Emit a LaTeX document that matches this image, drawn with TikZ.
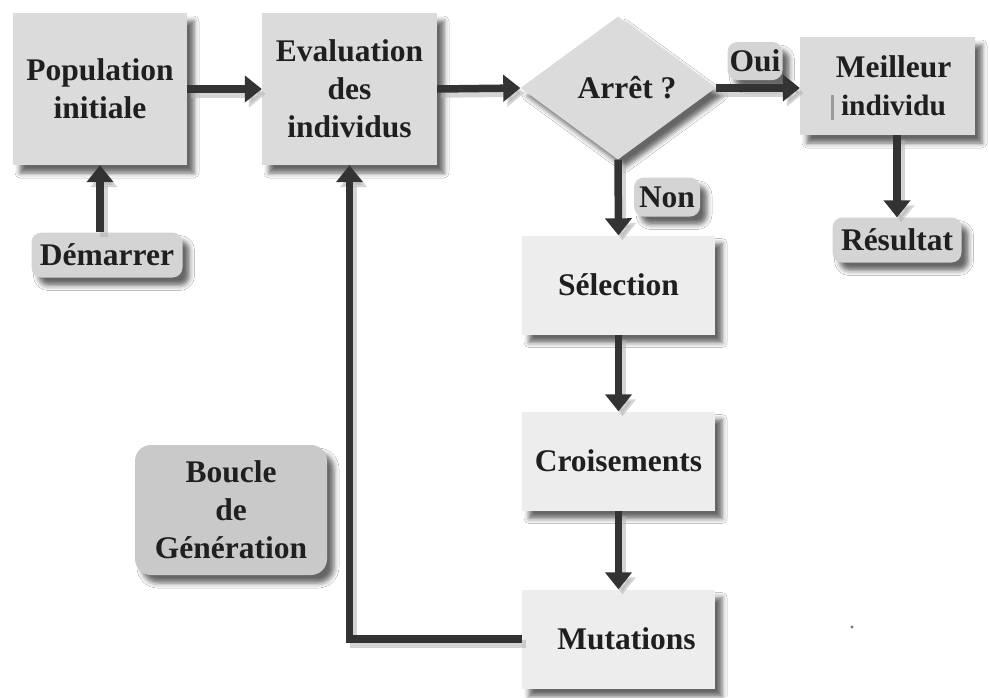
\documentclass[tikz,border=0pt]{standalone}
\usepackage{fontspec}
\setmainfont{Liberation Serif}
\usetikzlibrary{shapes.geometric,arrows.meta,shadows.blur}
\begin{document}
\begin{tikzpicture}[x=1pt,y=-1pt,
  font=\fontsize{31.5}{38}\selectfont\bfseries,
  every node/.append style={text=black!88},
  sh/.style={blur shadow={shadow xshift=7pt,shadow yshift=-8pt,
    shadow blur radius=5pt,shadow opacity=60}},
  box/.style={rectangle,fill=black!14,sh,inner sep=0pt,align=center},
  lowbox/.style={box,fill=black!7,minimum width=193pt,minimum height=99pt},
  tag/.style={rectangle,rounded corners=10pt,fill=black!17,sh,inner sep=0pt,align=center},
  tip/.style={-{Triangle[length=17pt,width=26pt]}},
  arr/.style={draw=black!80,line width=7.5pt,tip,
    preaction={draw=black!30,opacity=.55,line width=7.5pt,tip,
      transform canvas={shift={(4pt,-5pt)}}}},
  loop/.style={arr}
]
\useasboundingbox[fill=white] (0,0) rectangle (990,697);

% main row of boxes
\node[box,minimum width=174pt,minimum height=152pt] (pop) at (100,89) {Population\\initiale};
\node[box,minimum width=175pt,minimum height=152pt] (eval) at (349.5,89) {Evaluation\\des\\individus};
\node[diamond,fill=black!14,sh,inner sep=0pt,minimum width=195pt,minimum height=143pt]
  (dia) at (618,88) {\hspace{18pt}Arrêt ?};
\node[box,minimum width=175pt,minimum height=98pt] (meil) at (887.5,86)
  {\hspace{12pt}Meilleur\\\hspace{12pt}{\fontsize{29.5}{38}\selectfont individu}};
\fill[black!40] (831,95) rectangle (834,120);

% rounded tags
\node[tag,minimum width=151pt,minimum height=45pt] (dem) at (107,255) {Démarrer};
\node[tag,minimum width=129pt,minimum height=45pt] (res) at (897,240) {Résultat};
\node[tag,minimum width=55pt,minimum height=38pt] (oui) at (755,61) {Oui};
\node[tag,minimum width=66pt,minimum height=39pt] (non) at (667,197) {Non};
\node[tag,fill=black!21,rounded corners=16pt,minimum width=192pt,minimum height=130pt]
  (boucle) at (231,510) {Boucle\\de\\Génération};

% generation steps
\node[lowbox] (sel) at (618.5,285) {Sélection};
\node[lowbox] (cro) at (618.5,461) {Croisements};
\node[lowbox] (mut) at (618.5,639) {\hspace{16pt}Mutations};

% stray speck
\fill[black!55] (852,627) circle (1.6pt);

% connectors
\draw[arr] (pop.south |- dem.north) -- (pop.south);
\draw[arr] (pop.east) -- (eval.west);
\draw[arr] (eval.east) -- (dia.west);
\draw[arr] (dia.east) -- (dia.east -| meil.west);
\draw[arr] (res.north |- meil.south) -- (res.north);
\draw[arr] (dia.south) -- (sel.north);
\draw[arr] (sel.south) -- (cro.north);
\draw[arr] (cro.south) -- (mut.north);
\draw[loop] (mut.west) -- (eval.south |- mut.west) -- (eval.south);
\end{tikzpicture}
\end{document}
